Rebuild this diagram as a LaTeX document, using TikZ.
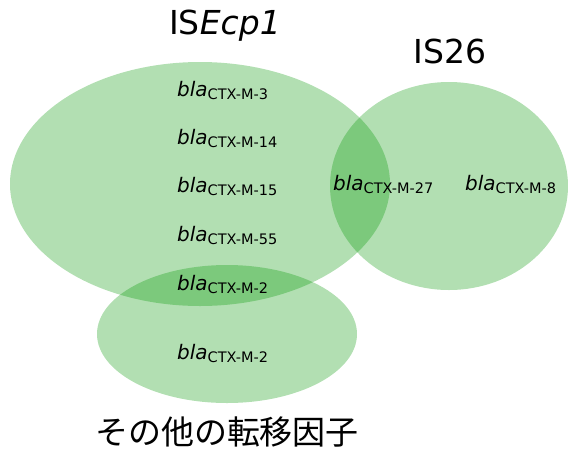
\documentclass[tikz,border=0pt]{standalone}
\usepackage{fontspec}
\setmainfont{DejaVu Sans}
\newfontfamily\jpfont{Noto Sans CJK JP}
\definecolor{setgreen}{RGB}{0,150,0}
\tikzset{
  setfill/.style={fill=setgreen, fill opacity=0.3, draw=none},
  gene/.style={anchor=base west, inner sep=0pt, font=\fontsize{20}{24}\selectfont},
  setlabel/.style={inner sep=0pt, font=\fontsize{33}{38}\selectfont},
}
\newcommand{\blagene}[1]{\textit{bla}\textsubscript{\fontsize{14.5}{16}\selectfont #1}}
\begin{document}
\begin{tikzpicture}[x=1pt,y=-1pt]
  \useasboundingbox (0,0) rectangle (568,448);
  % the three sets
  \path[setfill] (200,184) ellipse [x radius=190, y radius=122];
  \path[setfill] (449,186) ellipse [x radius=119, y radius=104];
  \path[setfill] (227,334) ellipse [x radius=130, y radius=69];
  % set titles
  \node[setlabel] (tEcp) at (225,26) {IS\textit{Ecp1}};
  \node[setlabel] (t26) at (450,51) {IS26};
  \node[inner sep=0pt, font=\jpfont\fontsize{33}{37}\selectfont] (tother) at (227,432) {その他の転移因子};
  % genes
  \node[gene] (g3)  at (177,96)  {\blagene{CTX-M-3}};
  \node[gene] (g14) at (177,144) {\blagene{CTX-M-14}};
  \node[gene] (g15) at (177,192) {\blagene{CTX-M-15}};
  \node[gene] (g55) at (177,241) {\blagene{CTX-M-55}};
  \node[gene] (g2a) at (177,290) {\blagene{CTX-M-2}};
  \node[gene] (g2b) at (177,359) {\blagene{CTX-M-2}};
  \node[gene] (g27) at (333,190) {\blagene{CTX-M-27}};
  \node[gene] (g8)  at (465,190) {\blagene{CTX-M-8}};
\end{tikzpicture}
\end{document}
